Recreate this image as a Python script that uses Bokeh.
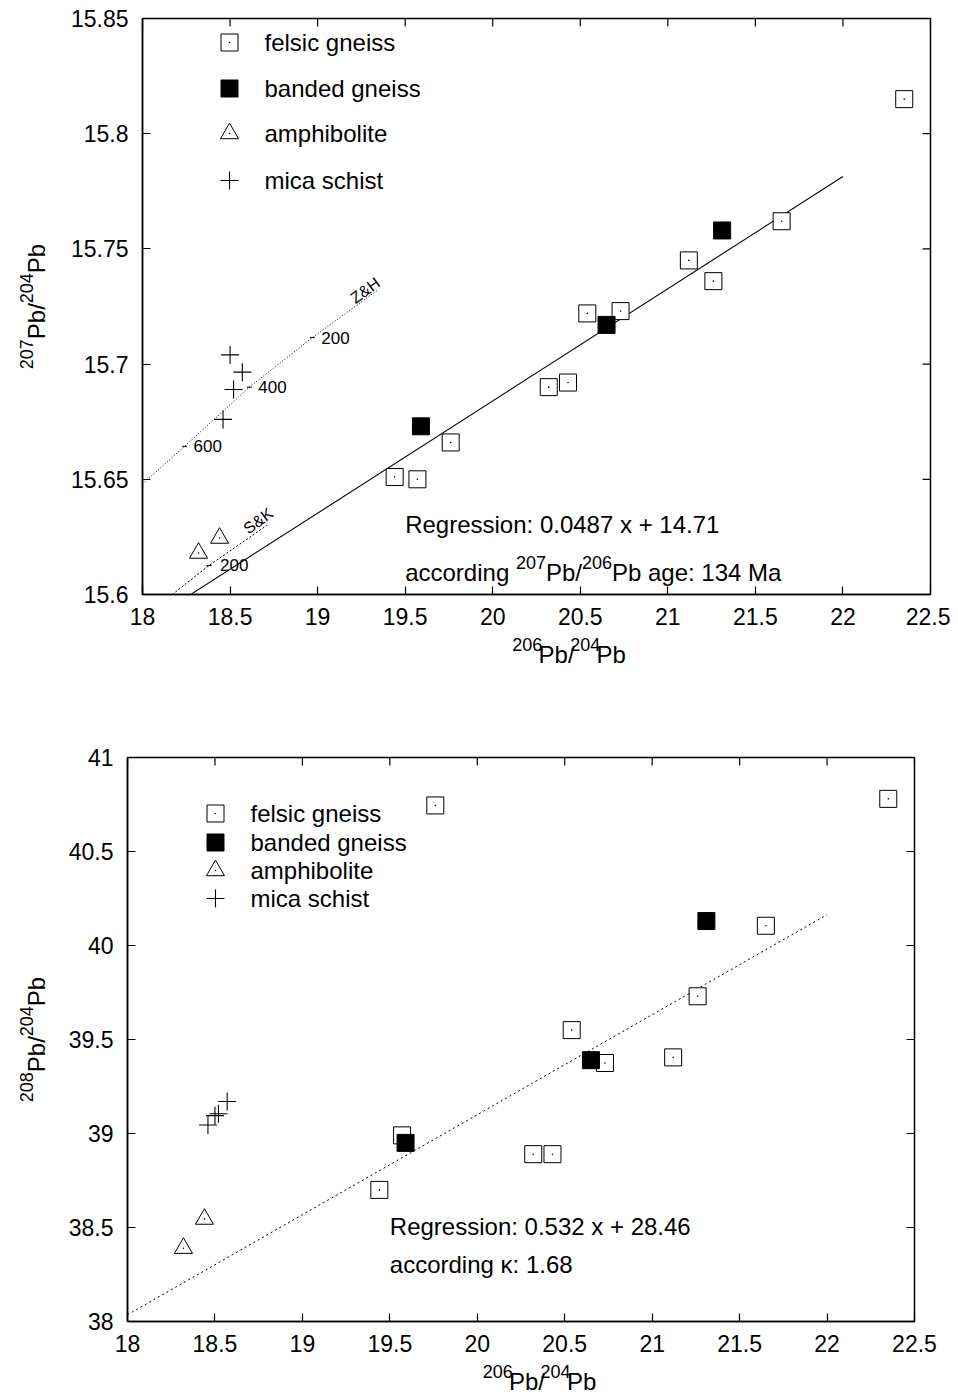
import math

from bokeh.core.properties import value
from bokeh.embed import file_html
from bokeh.layouts import column, row
from bokeh.models import FixedTicker, Label, Range1d
from bokeh.plotting import figure
from bokeh.resources import INLINE

FONT = "Liberation Sans"

# ---------------------------------------------------------------- data
# Pb isotope ratios per rock type (206Pb/204Pb shared by both diagrams)
felsic_206 = [19.44, 19.57, 19.76, 20.32, 20.43, 20.54, 20.73, 21.12, 21.26, 21.65, 22.35]
felsic_207 = [15.651, 15.650, 15.666, 15.690, 15.692, 15.722, 15.723, 15.745, 15.736, 15.762, 15.815]
felsic_208 = [38.70, 38.99, 40.745, 38.89, 38.89, 39.55, 39.375, 39.405, 39.73, 40.105, 40.78]

banded_206 = [19.59, 20.65, 21.31]
banded_207 = [15.673, 15.717, 15.758]
banded_208 = [38.95, 39.39, 40.13]

amph_206 = [18.32, 18.44]
amph_207 = [15.618, 15.6245]
amph_208 = [38.39, 38.545]

mica_206 = [18.50, 18.57, 18.52, 18.46]
mica_207 = [15.704, 15.6965, 15.689, 15.676]
mica_208 = [39.095, 39.17, 39.105, 39.045]

rock_types = ["felsic gneiss", "banded gneiss", "amphibolite", "mica schist"]

# regressions and derived values
fit207_slope, fit207_intercept = 0.0487, 14.71
fit208_slope, fit208_intercept = 0.532, 28.46
fit_x = [18.0, 22.0]
age_207_206 = 134
kappa = 1.68

# lead growth curves (Zartman & Haines, Stacey & Kramers) with age marks in Ma
zh_206 = [18.00, 18.24, 18.61, 18.97, 19.34]
zh_207 = [15.648, 15.6643, 15.690, 15.7115, 15.732]
zh_age = ["600", "400", "200"]
zh_age_206 = [18.24, 18.61, 18.97]
zh_age_207 = [15.6643, 15.690, 15.7115]

sk_206 = [18.17, 18.38, 18.71]
sk_207 = [15.600, 15.6126, 15.630]
sk_age = ["200"]
sk_age_206 = [18.38]
sk_age_207 = [15.6126]

x_range = (18.0, 22.5)
x_ticks = [18, 18.5, 19, 19.5, 20, 20.5, 21, 21.5, 22, 22.5]
x_tick_labels = ["18", "18.5", "19", "19.5", "20", "20.5", "21", "21.5", "22", "22.5"]
y207_range = (15.6, 15.85)
y207_ticks = [15.6, 15.65, 15.7, 15.75, 15.8, 15.85]
y207_tick_labels = ["15.6", "15.65", "15.7", "15.75", "15.8", "15.85"]
y208_range = (38.0, 41.0)
y208_ticks = [38, 38.5, 39, 39.5, 40, 40.5, 41]
y208_tick_labels = ["38", "38.5", "39", "39.5", "40", "40.5", "41"]

# ---------------------------------------------------------------- helpers
# advance widths (em) of the sans-serif face, used to set superscripts inline
ADV = {c: 0.556 for c in "0123456789"}
ADV.update({".": 0.278, "/": 0.278, " ": 0.278, ":": 0.278, "P": 0.667, "b": 0.556,
            "a": 0.556, "c": 0.5, "o": 0.556, "r": 0.333, "d": 0.556, "i": 0.222,
            "n": 0.556, "g": 0.556, "e": 0.556, "M": 0.833})


def text_width(s, size):
    return sum(ADV.get(ch, 0.556) for ch in s) * size


def ratio_pieces(top, bottom):
    return [(str(top), True), ("Pb/", False), (str(bottom), True), ("Pb", False)]


def rich_label(p, x, y, pieces, size=24, sup_size=18, rise=10):
    """Inline text with superscripts, anchored in data space at its left, mid-height."""
    off = 0.0
    for txt, sup in pieces:
        fs = sup_size if sup else size
        p.add_layout(Label(x=x, y=y, x_offset=off, y_offset=rise if sup else 0,
                           text=txt, text_font=FONT, text_font_size=f"{fs}px",
                           text_color="black", text_baseline="middle", text_align="left"))
        off += text_width(txt, fs)


def caption(w, h, cx, cy, pieces, vertical=False, size=24, sup_size=18, rise=10):
    """A bare strip (pixel coordinates) carrying a centred axis title with superscripts."""
    c = figure(width=w, height=h, x_range=Range1d(0, w), y_range=Range1d(0, h),
               x_axis_type=None, y_axis_type=None, output_backend="svg",
               toolbar_location=None, min_border=0, outline_line_color=None)
    c.grid.visible = False
    total = sum(text_width(t, sup_size if s else size) for t, s in pieces)
    pos = -total / 2
    for txt, sup in pieces:
        fs = sup_size if sup else size
        lift = rise if sup else 0
        if vertical:
            px, py, ang = cx - lift, cy + pos, math.pi / 2
        else:
            px, py, ang = cx + pos, cy + lift, 0.0
        c.text([px], [py], text=[txt], angle=ang, text_align="left", text_baseline="middle",
               text_font=value(FONT), text_font_size=f"{fs}px", text_color="black")
        pos += text_width(txt, fs)
    return c


def base_figure(y_rng, y_ticks, y_labels, left, right, top, bottom, fw, fh):
    p = figure(frame_width=fw, frame_height=fh, x_range=Range1d(*x_range),
               y_range=Range1d(*y_rng), output_backend="svg", toolbar_location=None,
               min_border_left=left, min_border_right=right,
               min_border_top=top, min_border_bottom=bottom)
    p.grid.visible = False
    p.outline_line_color = "black"
    p.outline_line_width = 1.5
    p.background_fill_color = "white"
    p.border_fill_color = "white"

    p.xaxis.ticker = FixedTicker(ticks=x_ticks)
    p.xaxis.major_label_overrides = dict(zip(x_ticks, x_tick_labels))
    p.yaxis.ticker = FixedTicker(ticks=y_ticks)
    p.yaxis.major_label_overrides = dict(zip(y_ticks, y_labels))
    for ax in (p.xaxis[0], p.yaxis[0]):
        ax.major_tick_in = 8
        ax.major_tick_out = 0
        ax.minor_tick_in = 0
        ax.minor_tick_out = 0
        ax.axis_line_width = 1.5
        ax.major_tick_line_width = 1.2
        ax.major_label_text_font = FONT
        ax.major_label_text_font_size = "23px"
        ax.major_label_text_color = "black"
    p.xaxis.major_label_standoff = 13
    p.yaxis.major_label_standoff = 14

    # inward ticks mirrored on the top and right edges (the outer half is clipped)
    p.scatter(x_ticks, [y_rng[1]] * len(x_ticks), marker="dash", angle=math.pi / 2, size=16,
              line_color="black", line_width=1.2)
    p.scatter([x_range[1]] * len(y_ticks), y_ticks, marker="dash", size=16,
              line_color="black", line_width=1.2)
    return p


def draw_kind(p, kind, xs, ys):
    if kind == 0:      # open square with centre dot
        p.scatter(xs, ys, marker="square", size=17, fill_color="white",
                  line_color="black", line_width=1)
        p.scatter(xs, ys, marker="circle", size=1.6, fill_color="black", line_color=None)
    elif kind == 1:    # filled square
        p.scatter(xs, ys, marker="square", size=17, fill_color="black",
                  line_color="black", line_width=1)
    elif kind == 2:    # open triangle with centre dot
        p.scatter(xs, ys, marker="triangle", size=18, fill_color="white",
                  line_color="black", line_width=1)
        p.scatter(xs, ys, marker="circle", size=1.6, fill_color="black", line_color=None)
    else:              # cross
        p.scatter(xs, ys, marker="cross", size=18, line_color="black", line_width=1.1)


def add_samples(p, ys):
    for kind, (xs, yv) in enumerate(zip([felsic_206, banded_206, amph_206, mica_206], ys)):
        draw_kind(p, kind, xs, yv)


def add_key(p, y_rng, fw, fh, sym_px, text_px, rows_px):
    """Key placed by pixel offsets from the frame's top-left corner."""
    def to_x(px):
        return x_range[0] + px / fw * (x_range[1] - x_range[0])

    def to_y(py):
        return y_rng[1] - py / fh * (y_rng[1] - y_rng[0])

    for kind, (name, ry) in enumerate(zip(rock_types, rows_px)):
        draw_kind(p, kind, [to_x(sym_px)], [to_y(ry)])
        p.text([to_x(text_px)], [to_y(ry)], text=[name], text_baseline="middle",
               text_align="left", text_font=value(FONT), text_font_size="24px",
               text_color="black")


# ---------------------------------------------------------------- 207Pb/204Pb
FW1, FH1 = 788, 576
p1 = base_figure(y207_range, y207_ticks, y207_tick_labels,
                 left=90, right=20, top=18, bottom=40, fw=FW1, fh=FH1)

p1.line(zh_206, zh_207, line_color="black", line_width=1, line_dash="1 2")
p1.line(sk_206, sk_207, line_color="black", line_width=1, line_dash="2 2")
p1.scatter(zh_age_206, zh_age_207, marker="dash", size=5, line_color="black", line_width=1)
p1.scatter(sk_age_206, sk_age_207, marker="dash", size=5, line_color="black", line_width=1)
p1.text(zh_age_206, zh_age_207, text=zh_age, x_offset=9, text_baseline="middle",
        text_font=value(FONT), text_font_size="17px", text_color="black")
p1.text(sk_age_206, sk_age_207, text=sk_age, x_offset=11, text_baseline="middle",
        text_font=value(FONT), text_font_size="17px", text_color="black")
p1.text([zh_206[-1] - 0.04], [zh_207[-1] - 0.003], text=["Z&H"], angle=0.63,
        text_align="center", text_baseline="bottom",
        text_font=value(FONT), text_font_size="16px", text_color="black")
p1.text([sk_206[-1] - 0.02], [sk_207[-1] - 0.001], text=["S&K"], angle=0.63,
        text_align="center", text_baseline="bottom",
        text_font=value(FONT), text_font_size="16px", text_color="black")

p1.line(fit_x, [fit207_slope * x + fit207_intercept for x in fit_x],
        line_color="black", line_width=1.1)

add_samples(p1, (felsic_207, banded_207, amph_207, mica_207))
add_key(p1, y207_range, FW1, FH1, sym_px=87, text_px=122, rows_px=[24, 70, 115, 162])

p1.add_layout(Label(x=19.5, y=15.6304, text=f"Regression: {fit207_slope} x + {fit207_intercept}",
                    text_font=FONT, text_font_size="24px", text_color="black",
                    text_baseline="middle"))
rich_label(p1, 19.5, 15.6097, [("according ", False), ("207", True), ("Pb/", False),
                               ("206", True), (f"Pb age: {age_207_206} Ma", False)])

# ---------------------------------------------------------------- 208Pb/204Pb
FW2, FH2 = 787, 564
p2 = base_figure(y208_range, y208_ticks, y208_tick_labels,
                 left=75, right=36, top=73, bottom=40, fw=FW2, fh=FH2)

p2.line(fit_x, [fit208_slope * x + fit208_intercept for x in fit_x],
        line_color="black", line_width=1, line_dash="2 3")

add_samples(p2, (felsic_208, banded_208, amph_208, mica_208))
add_key(p2, y208_range, FW2, FH2, sym_px=88, text_px=123, rows_px=[56, 85, 113, 141])

p2.add_layout(Label(x=19.5, y=38.505, text=f"Regression: {fit208_slope} x + {fit208_intercept}",
                    text_font=FONT, text_font_size="24px", text_color="black",
                    text_baseline="middle"))
p2.add_layout(Label(x=19.5, y=38.305, text=f"according \u03ba: {kappa}",
                    text_font=FONT, text_font_size="24px", text_color="black",
                    text_baseline="middle"))

# ---------------------------------------------------------------- axis titles and layout
x_title_1 = caption(898, 50, 484, 30, ratio_pieces(206, 204))
y_title_1 = caption(52, 684, 36, 378, ratio_pieces(207, 204), vertical=True)
x_title_2 = caption(898, 33, 468, 13, ratio_pieces(206, 204))
y_title_2 = caption(52, 710, 36, 355, ratio_pieces(208, 204), vertical=True)

top_block = row(y_title_1, column(p1, x_title_1, spacing=0), spacing=0)
bottom_block = row(y_title_2, column(p2, x_title_2, spacing=0), spacing=0)
layout = column(top_block, bottom_block, spacing=0)
open("out.html", "w").write(file_html(layout, INLINE))
